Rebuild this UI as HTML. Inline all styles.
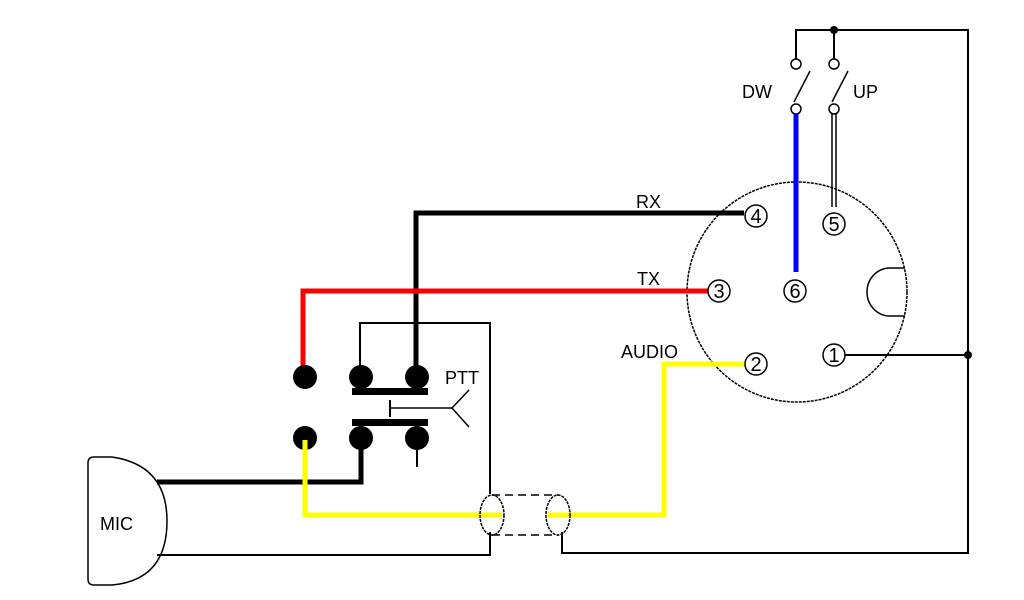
<!DOCTYPE html>
<html><head><style>html,body{margin:0;padding:0;background:#fff;}svg{display:block}</style></head>
<body>
<svg width="1024" height="600" viewBox="0 0 1024 600" xmlns="http://www.w3.org/2000/svg" font-family="Liberation Sans, sans-serif">
<rect width="1024" height="600" fill="#fff"/>
<circle cx="797" cy="292" r="110" fill="none" stroke="#000" stroke-width="1.5" stroke-dasharray="3,1"/>
<path d="M905 268 L890 268 A 23 24 0 0 0 890 316 L905 316" fill="none" stroke="#000" stroke-width="1.5"/>
<polyline points="796,59 796,30 968,30 968,553 562,553 562,532" fill="none" stroke="#000" stroke-width="2"/>
<line x1="834" y1="30" x2="834" y2="59" stroke="#000" stroke-width="2"/>
<circle cx="834" cy="30" r="4" fill="#000"/>
<circle cx="968" cy="355" r="4" fill="#000"/>
<line x1="845" y1="355" x2="968" y2="355" stroke="#000" stroke-width="2"/>
<g fill="#fff" stroke="#000" stroke-width="1.5">
<circle cx="796" cy="64" r="5"/><circle cx="796" cy="109" r="5"/>
<circle cx="834" cy="64" r="5"/><circle cx="834" cy="109" r="5"/>
</g>
<line x1="794" y1="102" x2="810" y2="71" stroke="#000" stroke-width="1.5"/>
<line x1="832" y1="102" x2="848" y2="71" stroke="#000" stroke-width="1.5"/>
<text x="742" y="98" font-size="18" fill="#000">DW</text>
<text x="853" y="98" font-size="18" fill="#000">UP</text>
<line x1="796" y1="114" x2="796" y2="272" stroke="#0000ff" stroke-width="5"/>
<line x1="832" y1="114" x2="832" y2="207" stroke="#000" stroke-width="1.5"/>
<line x1="836" y1="114" x2="836" y2="207" stroke="#000" stroke-width="1.5"/>
<polyline points="416,368 416,213 744,213" fill="none" stroke="#000" stroke-width="5"/>
<polyline points="303,368 303,291 708,291" fill="none" stroke="#ff0000" stroke-width="5"/>
<polyline points="746,364 664,364 664,515 548,515" fill="none" stroke="#ffff00" stroke-width="5"/>
<text x="636" y="208" font-size="18" fill="#000">RX</text>
<text x="637" y="285" font-size="18" fill="#000">TX</text>
<text x="621" y="358" font-size="18" fill="#000">AUDIO</text>
<g fill="#fff" stroke="#000" stroke-width="1.5">
<circle cx="756" cy="216" r="11"/><circle cx="834" cy="224" r="11"/>
<circle cx="719" cy="291" r="11"/><circle cx="795" cy="291" r="11"/>
<circle cx="756" cy="364" r="11"/><circle cx="834" cy="355" r="11"/>
</g>
<g font-size="20" fill="#000" text-anchor="middle">
<text x="756" y="223">4</text><text x="834" y="231">5</text>
<text x="719" y="298">3</text><text x="795" y="298">6</text>
<text x="756" y="371">2</text><text x="834" y="362">1</text>
</g>
<polyline points="360,368 360,323 490,323 490,494" fill="none" stroke="#000" stroke-width="2"/>
<g fill="#000">
<circle cx="305" cy="377" r="12"/><circle cx="361" cy="377" r="12"/><circle cx="417" cy="377" r="12"/>
<circle cx="305" cy="438" r="12"/><circle cx="361" cy="438" r="12"/><circle cx="417" cy="438" r="12"/>
<rect x="352" y="388" width="76" height="7"/>
<rect x="352" y="419" width="76" height="7"/>
</g>
<line x1="417" y1="445" x2="417" y2="467" stroke="#000" stroke-width="2"/>
<line x1="390" y1="408" x2="452" y2="408" stroke="#000" stroke-width="1.5"/>
<line x1="390" y1="400" x2="390" y2="417" stroke="#000" stroke-width="2"/>
<polyline points="469,390 452,408 469,427" fill="none" stroke="#000" stroke-width="1.5"/>
<text x="445" y="384" font-size="18" fill="#000">PTT</text>
<path d="M94 457 L112 457 Q167 465 167 521 Q167 580 112 585 L94 585 Q88 585 88 579 L88 463 Q88 457 94 457 Z" fill="#fff" stroke="#000" stroke-width="1.5"/>
<text x="100" y="530" font-size="18" fill="#000">MIC</text>
<polyline points="157,482 361,482 361,440" fill="none" stroke="#000" stroke-width="5"/>
<polyline points="305,440 305,515 502,515" fill="none" stroke="#ffff00" stroke-width="5"/>
<polyline points="157,555 490,555 490,532" fill="none" stroke="#000" stroke-width="2"/>
<ellipse cx="492" cy="515" rx="12" ry="20" fill="none" stroke="#000" stroke-width="1.5" stroke-dasharray="3,1"/>
<ellipse cx="558" cy="515" rx="12" ry="20" fill="none" stroke="#000" stroke-width="1.5" stroke-dasharray="3,1"/>
<line x1="492" y1="495" x2="558" y2="495" stroke="#000" stroke-width="1.5" stroke-dasharray="8,5"/>
<line x1="492" y1="535" x2="558" y2="535" stroke="#000" stroke-width="1.5" stroke-dasharray="8,5"/>
</svg>
</body></html>
